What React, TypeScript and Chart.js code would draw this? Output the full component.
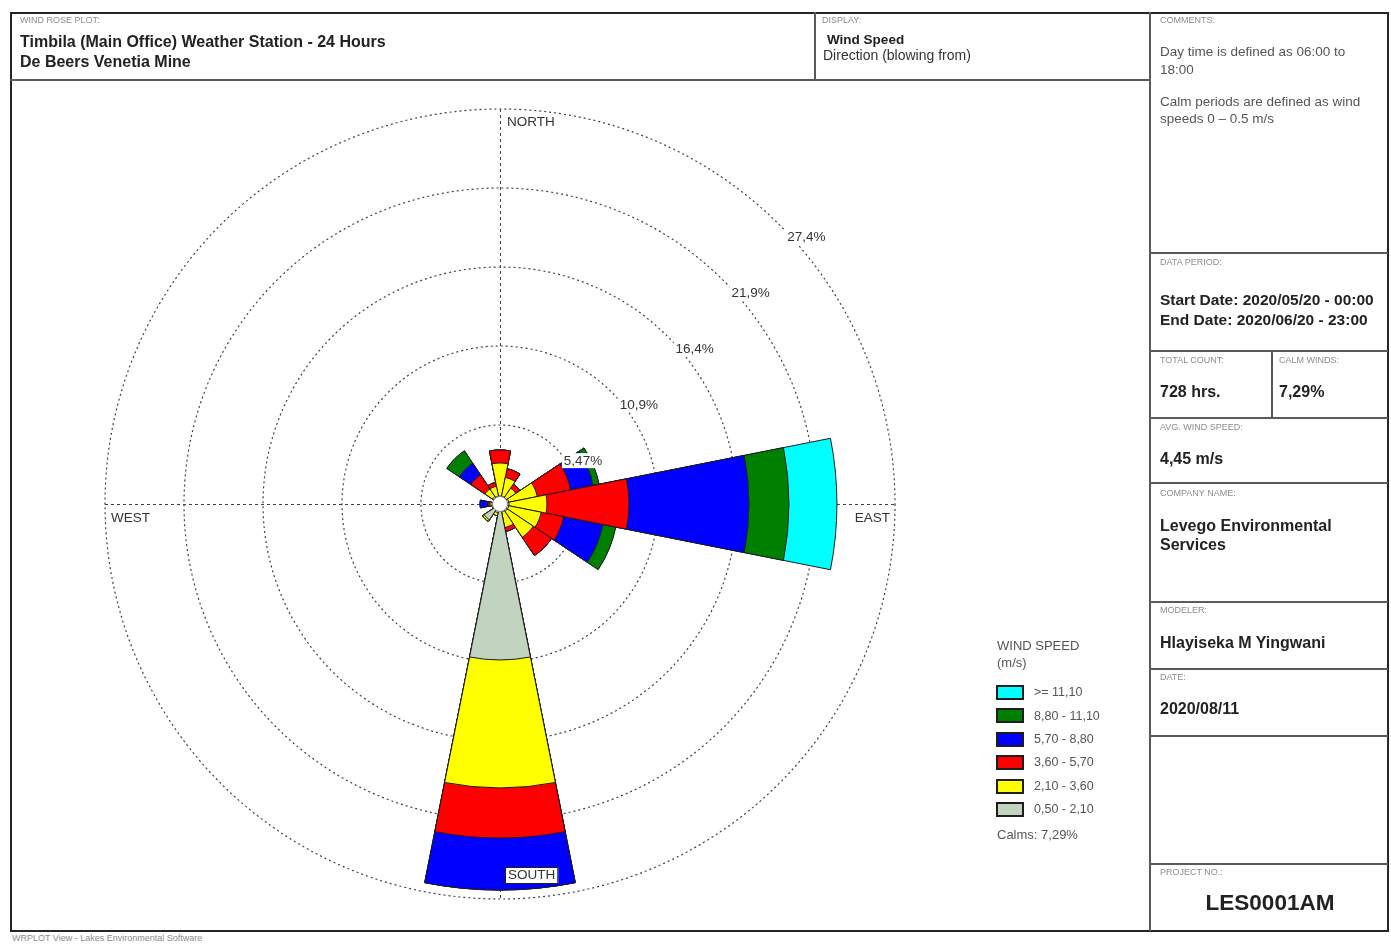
import React, { useEffect, useRef } from "react";
import { Chart, registerables } from "chart.js";

Chart.register(...registerables);

// Wind directions (blowing from), clockwise from north
const directions = ["N", "NNE", "NE", "ENE", "E", "ESE", "SE", "SSE", "S", "SSW", "SW", "WSW", "W", "WNW", "NW", "NNW"];

// Frequency (% of hours) per direction for each wind speed class (m/s)
const freq050to210 = [0.55, 0.55, 0.55, 0.62, 0.62, 0.62, 0.62, 0.55, 10.8, 0.62, 1.32, 0.55, 0.55, 0.48, 0.62, 0.55];
const freq210to360 = [2.29, 1.32, 0.77, 2.01, 2.63, 2.29, 2.15, 1.11, 8.86, 0.21, 0.13, 0.0, 0.14, 0.0, 0.63, 0.7];
const freq360to570 = [0.9, 0.62, 0.34, 2.36, 5.68, 1.59, 1.52, 0.28, 3.47, 0.0, 0.0, 0.0, 0.14, 0.0, 1.17, 0.27];
const freq570to880 = [0.0, 0.0, 0.0, 1.59, 8.31, 2.77, 0.0, 0.0, 3.6, 0.0, 0.0, 0.0, 0.55, 0.0, 0.97, 0.0];
const freq880to1110 = [0.0, 0.0, 0.0, 0.41, 2.77, 0.9, 0.0, 0.0, 0.0, 0.0, 0.0, 0.0, 0.0, 0.0, 1.04, 0.0];
const freqAbove1110 = [0.0, 0.0, 0.0, 0.0, 3.32, 0.0, 0.0, 0.0, 0.0, 0.0, 0.0, 0.0, 0.0, 0.0, 0.0, 0.0];

const speedClassLabels = ["0,50 - 2,10", "2,10 - 3,60", "3,60 - 5,70", "5,70 - 8,80", "8,80 - 11,10", ">= 11,10"];
const speedClassColors = ["#C0D4C0", "#FFFF00", "#FF0000", "#0000FF", "#008000", "#00FFFF"];

// Frequency rings and their labels
const ringValues = [5.47, 10.94, 16.41, 21.88, 27.35];
const ringLabels = ["5,47%", "10,9%", "16,4%", "21,9%", "27,4%"];
const compassLabels = ["NORTH", "EAST", "SOUTH", "WEST"];

const calmsText = "7,29%";

const FONT = '"Liberation Sans", Arial, sans-serif';
const GRID = "#3a4152";

const speedBands = [freq050to210, freq210to360, freq360to570, freq570to880, freq880to1110, freqAbove1110];

// Stacked petals: each class is drawn as a cumulative polar area, lowest class on top
function cumulativeBands() {
  const out: number[][] = [];
  speedBands.forEach((band, k) => {
    out.push(band.map((v, i) => (k === 0 ? v : out[k - 1][i] + v)));
  });
  return out.map((arr) => arr.map((v) => Math.round(v * 100) / 100));
}

function labelWithBackground(ctx: CanvasRenderingContext2D, text: string, x: number, y: number) {
  const w = ctx.measureText(text).width;
  ctx.fillStyle = "#ffffff";
  ctx.fillRect(x - 2, y - 1, w + 4, 15);
  ctx.fillStyle = "#333";
  ctx.fillText(text, x, y);
}

const roseDecor = {
  id: "roseDecor",
  beforeDatasetsDraw(chart: any) {
    const s = chart.scales.r;
    const ctx = chart.ctx;
    const R = s.getDistanceFromCenterForValue(s.max);
    ctx.save();
    ctx.strokeStyle = GRID;
    ctx.lineWidth = 1;
    ctx.setLineDash([3, 3]);
    ctx.beginPath();
    ctx.moveTo(s.xCenter + 0.5, s.yCenter - R);
    ctx.lineTo(s.xCenter + 0.5, s.yCenter + R);
    ctx.moveTo(s.xCenter - R, s.yCenter + 0.5);
    ctx.lineTo(s.xCenter + R, s.yCenter + 0.5);
    ctx.stroke();
    ctx.restore();
  },
  afterDatasetsDraw(chart: any) {
    const s = chart.scales.r;
    const ctx = chart.ctx;
    const xc = s.xCenter;
    const yc = s.yCenter;
    const R = s.getDistanceFromCenterForValue(s.max);
    ctx.save();

    // calm circle
    ctx.beginPath();
    ctx.arc(xc, yc, 7.5, 0, Math.PI * 2);
    ctx.fillStyle = "#ffffff";
    ctx.fill();
    ctx.lineWidth = 1;
    ctx.strokeStyle = "#8a8a8a";
    ctx.stroke();

    // ring labels along the north-east diagonal, on white boxes
    ctx.font = `13.5px ${FONT}`;
    ctx.textAlign = "left";
    ctx.textBaseline = "top";
    ringValues.forEach((v, i) => {
      const r = s.getDistanceFromCenterForValue(v);
      labelWithBackground(ctx, ringLabels[i], xc + r * Math.SQRT1_2 + 8, yc - r * Math.SQRT1_2 + 6);
    });

    // compass labels
    labelWithBackground(ctx, compassLabels[0], xc + 7, yc - R + 7);
    labelWithBackground(ctx, compassLabels[3], xc - R + 6, yc + 8);
    const eastW = ctx.measureText(compassLabels[1]).width;
    labelWithBackground(ctx, compassLabels[1], xc + R - 5 - eastW, yc + 8);

    const southW = ctx.measureText(compassLabels[2]).width;
    const bx = xc + 5;
    const by = yc + R - 32;
    ctx.fillStyle = "#ffffff";
    ctx.fillRect(bx, by, southW + 6, 17);
    ctx.strokeStyle = "#222";
    ctx.lineWidth = 1;
    ctx.strokeRect(bx + 0.5, by + 0.5, southW + 5, 16);
    ctx.fillStyle = "#333";
    ctx.fillText(compassLabels[2], bx + 3, by + 2);
    ctx.restore();
  },
};

function WindRose() {
  const ref = useRef<HTMLCanvasElement>(null);
  useEffect(() => {
    const cum = cumulativeBands();
    const chart = new Chart(ref.current as HTMLCanvasElement, {
      type: "polarArea",
      data: {
        labels: directions,
        datasets: cum.map((data, k) => ({
          label: speedClassLabels[k],
          data,
          backgroundColor: speedClassColors[k],
          borderColor: "#1c1c1c",
          borderWidth: 1,
        })),
      },
      options: {
        responsive: false,
        animation: false,
        events: [],
        layout: { padding: { left: 93, top: 27, right: 253, bottom: 29 } },
        plugins: { legend: { display: false }, tooltip: { enabled: false } },
        scales: {
          r: {
            min: 0,
            max: ringValues[ringValues.length - 1],
            startAngle: -11.25,
            afterBuildTicks: (scale: any) => {
              scale.ticks = [0, ...ringValues].map((value) => ({ value }));
            },
            ticks: { display: false },
            grid: { circular: true, color: GRID, lineWidth: 1.2 },
            border: { dash: [2, 3] },
            angleLines: { display: false },
            pointLabels: { display: false },
          },
        },
      } as any,
      plugins: [roseDecor],
    });
    return () => chart.destroy();
  }, []);
  return (
    <canvas
      ref={ref}
      width={1136}
      height={846}
      style={{ position: "absolute", left: 12, top: 82, width: 1136, height: 846 }}
    />
  );
}

function Txt(props: {
  x: number;
  y: number;
  size: number;
  bold?: boolean;
  color?: string;
  align?: "left" | "center";
  children: React.ReactNode;
}) {
  const { x, y, size, bold, color, align, children } = props;
  const style: React.CSSProperties = {
    position: "absolute",
    top: y - size * 0.5,
    fontSize: size,
    lineHeight: `${size}px`,
    fontWeight: bold ? 700 : 400,
    color: color || "#222",
    whiteSpace: "nowrap",
    fontFamily: FONT,
  };
  if (align === "center") {
    style.left = x - 200;
    style.width = 400;
    style.textAlign = "center";
  } else {
    style.left = x;
  }
  return <div style={style}>{children}</div>;
}

function HLine({ x1, x2, y }: { x1: number; x2: number; y: number }) {
  return <div style={{ position: "absolute", left: x1, top: y - 1, width: x2 - x1, height: 2, background: "#5a5a5a" }} />;
}
function VLine({ x, y1, y2 }: { x: number; y1: number; y2: number }) {
  return <div style={{ position: "absolute", left: x - 1, top: y1, width: 2, height: y2 - y1, background: "#5a5a5a" }} />;
}

const tiny = "#8c8c8c";

export default function App() {
  const legendOrder = [5, 4, 3, 2, 1, 0];
  return (
    <div style={{ position: "absolute", left: 0, top: 0, width: 1391, height: 944, background: "#fff", fontFamily: FONT }}>
      <WindRose />

      {/* frame */}
      <div
        style={{
          position: "absolute",
          left: 10,
          top: 12,
          width: 1379,
          height: 920,
          border: "2px solid #262626",
          boxSizing: "border-box",
        }}
      />
      <HLine x1={10} x2={1150} y={80} />
      <VLine x={815} y1={12} y2={80} />
      <VLine x={1150} y1={12} y2={931} />
      {[253, 351, 418, 483, 602, 669, 736, 864].map((y) => (
        <HLine key={y} x1={1150} x2={1388} y={y} />
      ))}
      <VLine x={1272} y1={351} y2={418} />

      {/* header */}
      <Txt x={20} y={20} size={9} color={tiny}>WIND ROSE PLOT:</Txt>
      <Txt x={20} y={42} size={16} bold>Timbila (Main Office) Weather Station - 24 Hours</Txt>
      <Txt x={20} y={62} size={16} bold>De Beers Venetia Mine</Txt>

      <Txt x={822} y={20} size={9} color={tiny}>DISPLAY:</Txt>
      <Txt x={827} y={40} size={13.5} bold>Wind Speed</Txt>
      <Txt x={823} y={55} size={14} color="#333">Direction (blowing from)</Txt>

      {/* right column */}
      <Txt x={1160} y={20} size={9} color={tiny}>COMMENTS:</Txt>
      <Txt x={1160} y={52} size={13.5} color="#555">Day time is defined as 06:00 to</Txt>
      <Txt x={1160} y={70} size={13.5} color="#555">18:00</Txt>
      <Txt x={1160} y={102} size={13.5} color="#555">Calm periods  are defined as wind</Txt>
      <Txt x={1160} y={119} size={13.5} color="#555">speeds 0 – 0.5 m/s</Txt>

      <Txt x={1160} y={262} size={9} color={tiny}>DATA PERIOD:</Txt>
      <Txt x={1160} y={300} size={15.5} bold>Start Date: 2020/05/20 - 00:00</Txt>
      <Txt x={1160} y={320} size={15.5} bold>End Date: 2020/06/20 - 23:00</Txt>

      <Txt x={1160} y={360} size={9} color={tiny}>TOTAL COUNT:</Txt>
      <Txt x={1160} y={392} size={16} bold>728 hrs.</Txt>
      <Txt x={1279} y={360} size={9} color={tiny}>CALM WINDS:</Txt>
      <Txt x={1279} y={392} size={16} bold>{calmsText}</Txt>

      <Txt x={1160} y={427} size={9} color={tiny}>AVG. WIND SPEED:</Txt>
      <Txt x={1160} y={459} size={16} bold>4,45 m/s</Txt>

      <Txt x={1160} y={493} size={9} color={tiny}>COMPANY NAME:</Txt>
      <Txt x={1160} y={526} size={16} bold>Levego Environmental</Txt>
      <Txt x={1160} y={545} size={16} bold>Services</Txt>

      <Txt x={1160} y={610} size={9} color={tiny}>MODELER:</Txt>
      <Txt x={1160} y={643} size={16} bold>Hlayiseka M Yingwani</Txt>

      <Txt x={1160} y={677} size={9} color={tiny}>DATE:</Txt>
      <Txt x={1160} y={709} size={16} bold>2020/08/11</Txt>

      <Txt x={1160} y={872} size={9} color={tiny}>PROJECT NO.:</Txt>
      <Txt x={1270} y={903} size={22.5} bold align="center">LES0001AM</Txt>

      {/* legend */}
      <Txt x={997} y={645} size={13} color="#555">WIND SPEED</Txt>
      <Txt x={997} y={662} size={13} color="#555">(m/s)</Txt>
      {legendOrder.map((k, i) => (
        <React.Fragment key={k}>
          <div
            style={{
              position: "absolute",
              left: 996,
              top: 685 + i * 23.4,
              width: 28,
              height: 15,
              background: speedClassColors[k],
              border: "2px solid #1e1e1e",
              boxSizing: "border-box",
            }}
          />
          <Txt x={1034} y={692.5 + i * 23.4} size={12.5} color="#555">{speedClassLabels[k]}</Txt>
        </React.Fragment>
      ))}
      <Txt x={997} y={834} size={13} color="#555">{`Calms: ${calmsText}`}</Txt>

      {/* footer */}
      <Txt x={12} y={938} size={9} color={tiny}>WRPLOT View - Lakes Environmental Software</Txt>
    </div>
  );
}
